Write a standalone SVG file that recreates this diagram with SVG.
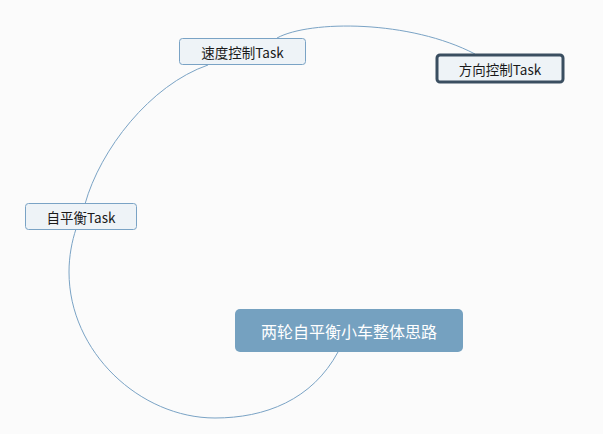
<svg xmlns="http://www.w3.org/2000/svg" width="603" height="434" viewBox="0 0 603 434">
<style>
.bg{fill:#fbfbfb}
.conn{fill:none;stroke:#7aa3c5;stroke-width:1}
.sub{fill:#eef3f7;stroke:#7aa3c5;stroke-width:1}
.sel{fill:#eef3f7;stroke:#3a4e60;stroke-width:3}
.main{fill:#75a1c0}
text{font-family:"Noto Sans CJK SC","Liberation Sans",sans-serif;text-anchor:middle;dominant-baseline:central}
.t{font-size:13.5px;fill:#1a1a1a}
.tm{font-size:16px;fill:#ffffff}
</style>
<rect class="bg" width="603" height="434"/>
<g id="connectors">
<path class="conn" d="M338,352 C312,400 265,418 215,418 C140,418 69,352 69,272 C69,256 72,241 76,229"/>
<path class="conn" d="M85,204 C100,150 150,85 208,65"/>
<path class="conn" d="M277,38 C310,20 410,20 475,54"/>
</g>
<g id="root">
<rect class="main" x="235" y="309" width="228" height="43" rx="5"/>
<text class="tm" x="349" y="330.5">两轮自平衡小车整体思路</text>
</g>
<g id="speed">
<rect class="sub" x="179.5" y="38.5" width="126" height="26" rx="3"/>
<text class="t" x="242.5" y="51.5">速度控制Task</text>
</g>
<g id="direction">
<rect class="sel" x="437" y="55" width="126" height="27" rx="3"/>
<text class="t" x="500" y="68.5">方向控制Task</text>
</g>
<g id="balance">
<rect class="sub" x="25.5" y="203.5" width="111" height="26" rx="3"/>
<text class="t" x="81" y="216.5">自平衡Task</text>
</g>
</svg>
